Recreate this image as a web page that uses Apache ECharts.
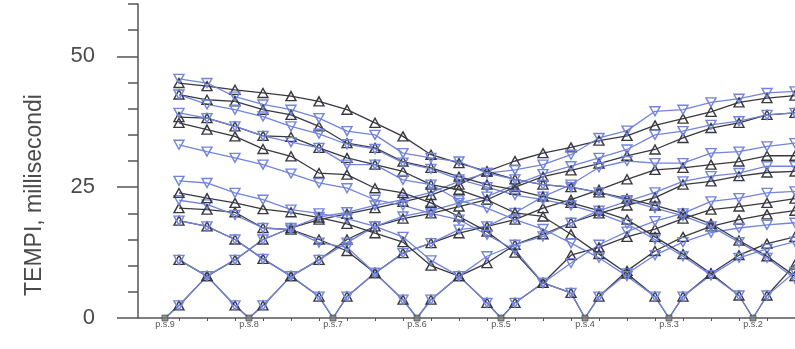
<!DOCTYPE html>
<html>
<head>
<meta charset="utf-8">
<script src="https://cdn.jsdelivr.net/npm/echarts@6/dist/echarts.min.js"></script>
<style>
  html, body { margin: 0; padding: 0; background: #fff; }
  #tempi { width: 795px; height: 349px; }
</style>
</head>
<body>
<div id="tempi"></div>
<script>
  // posizioni degli elettrodi (colonne) e dei punti di stimolo
  const colonne = [0.5, 1.5, 2.5, 3.5, 4.5, 5.5, 6.5, 7.5, 8.5, 9.5, 10.5, 11.5,
    12.5, 13.5, 14.5, 15.5, 16.5, 17.5, 18.5, 19.5, 20.5, 21.5, 22.5];
  const siti = [0, 3, 6, 9, 12, 15, 18, 21, 24];
  const etichette = ['p.s.9', 'p.s.8', 'p.s.7', 'p.s.6', 'p.s.5', 'p.s.4', 'p.s.3', 'p.s.2', 'p.s.1'];
  const tickY = [0, 25, 50];

  // tempi (ms) per ogni punto di stimolo: scuro = triangolo su, blu = triangolo giu
  const scuroPs9 = [2.4, 8.0, 11.1, 15.0, 17.2, 18.8, 19.9, 21.0, 22.2, 23.5, 25.5, 28.0, 30.0, 31.5, 32.6, 33.9, 34.8, 36.8, 38.1, 39.4, 41.2, 42.0, 42.5];
  const bluPs9 = [2.4, 8.0, 11.1, 15.0, 17.2, 19.3, 20.2, 21.5, 22.6, 24.0, 26.1, 27.7, 28.3, 29.3, 31.2, 34.4, 35.8, 39.5, 39.8, 41.2, 41.9, 43.0, 43.3];
  const scuroPs8 = [11.1, 8.0, 2.4, 2.4, 8.0, 11.1, 15.0, 17.5, 19.0, 20.0, 21.3, 22.6, 25.0, 27.0, 28.2, 29.5, 31.0, 32.2, 34.4, 36.3, 37.3, 38.8, 39.2];
  const bluPs8 = [11.1, 8.0, 2.4, 2.4, 8.0, 11.1, 14.4, 17.5, 19.4, 20.5, 22.0, 23.2, 25.5, 27.5, 29.0, 30.6, 32.2, 35.0, 35.7, 36.9, 37.6, 38.8, 39.2];
  const scuroPs7 = [18.6, 17.5, 15.0, 11.3, 8.0, 4.1, 4.1, 8.6, 12.4, 14.3, 16.2, 17.5, 18.8, 21.0, 22.6, 24.5, 26.5, 28.3, 28.7, 29.3, 29.9, 31.0, 31.0];
  const bluPs7 = [18.6, 17.5, 15.0, 11.3, 8.0, 4.1, 4.1, 8.6, 12.4, 14.3, 16.9, 17.5, 20.1, 23.2, 25.5, 28.8, 30.0, 29.6, 29.6, 31.5, 31.8, 32.8, 33.4];
  const scuroPs6 = [21.0, 20.7, 20.2, 17.2, 16.9, 15.0, 12.8, 8.6, 3.5, 3.5, 8.0, 10.5, 14.0, 16.0, 18.2, 20.0, 21.5, 23.0, 25.5, 26.1, 27.1, 27.8, 28.0];
  const bluPs6 = [22.5, 21.7, 19.7, 17.2, 16.9, 14.4, 13.5, 8.6, 3.5, 3.5, 8.0, 11.8, 14.0, 15.6, 18.2, 20.5, 22.3, 24.0, 26.1, 27.1, 27.7, 29.0, 29.0];
  const scuroPs5 = [23.9, 22.9, 22.0, 20.8, 20.2, 19.2, 18.0, 16.2, 14.5, 10.0, 8.0, 2.9, 2.9, 6.7, 12.0, 13.5, 15.5, 17.0, 19.0, 20.7, 21.3, 22.0, 22.8];
  const bluPs5 = [26.2, 25.8, 23.9, 22.6, 20.7, 20.0, 19.0, 17.5, 15.5, 11.0, 8.0, 2.9, 2.9, 6.7, 10.5, 14.0, 16.5, 18.5, 20.0, 22.3, 22.9, 23.9, 24.2];
  const scuroPs4 = [37.3, 36.0, 34.7, 32.3, 30.9, 27.7, 27.4, 24.8, 23.9, 22.0, 19.4, 16.5, 12.5, 6.7, 4.8, 4.1, 9.0, 12.8, 15.5, 17.5, 18.8, 19.8, 20.5];
  const bluPs4 = [33.1, 31.8, 30.6, 29.3, 27.6, 25.8, 24.8, 22.6, 21.5, 20.0, 18.8, 15.9, 13.0, 6.7, 4.8, 4.1, 8.5, 12.0, 14.5, 16.3, 17.2, 17.8, 18.2];
  const scuroPs3 = [38.4, 38.2, 36.6, 34.8, 34.6, 32.5, 30.6, 29.3, 28.0, 25.5, 24.5, 22.6, 20.1, 19.4, 16.0, 12.2, 8.5, 4.1, 4.1, 8.5, 12.0, 14.2, 15.5];
  const bluPs3 = [39.2, 38.2, 36.6, 34.8, 33.6, 32.5, 29.3, 29.3, 26.4, 25.5, 22.5, 21.0, 18.8, 17.0, 14.3, 11.5, 8.0, 4.1, 4.1, 8.2, 11.5, 13.2, 14.6];
  const scuroPs2 = [42.7, 41.7, 41.4, 39.8, 38.8, 36.6, 33.4, 32.5, 29.9, 28.7, 27.0, 25.5, 24.5, 23.2, 22.0, 20.5, 18.8, 15.5, 12.2, 8.5, 4.3, 4.3, 10.2];
  const bluPs2 = [42.7, 40.8, 39.8, 38.5, 36.6, 35.2, 33.2, 32.3, 29.7, 28.5, 26.5, 25.0, 23.5, 22.6, 21.5, 20.0, 18.0, 15.0, 11.8, 8.2, 4.3, 4.3, 8.8];
  const scuroPs1 = [44.9, 44.3, 43.6, 43.0, 42.4, 41.4, 39.8, 37.3, 34.7, 31.2, 29.6, 28.0, 26.5, 25.5, 25.0, 24.0, 22.8, 21.5, 20.0, 18.0, 14.8, 11.8, 8.0];
  const bluPs1 = [45.7, 44.9, 42.3, 40.8, 39.8, 38.2, 35.7, 35.0, 31.5, 30.6, 29.9, 27.7, 26.5, 25.5, 25.0, 24.0, 22.5, 21.0, 19.5, 17.5, 14.5, 11.5, 7.5];

  const scuri = [scuroPs9, scuroPs8, scuroPs7, scuroPs6, scuroPs5, scuroPs4, scuroPs3, scuroPs2, scuroPs1];
  const blu = [bluPs9, bluPs8, bluPs7, bluPs6, bluPs5, bluPs4, bluPs3, bluPs2, bluPs1];

  const coloreScuro = '#383840';
  const coloreBlu = '#7284dc';

  // unisce i tempi delle colonne con il punto di stimolo (tempo 0)
  function punti(valori, sito) {
    const out = [];
    let messo = false;
    colonne.forEach((x, i) => {
      if (!messo && x > sito) {
        out.push({value: [sito, 0], symbol: 'none'});
        messo = true;
      }
      out.push([x, valori[i]]);
    });
    if (!messo) out.push({value: [sito, 0], symbol: 'none'});
    return out;
  }

  function linea(nome, valori, sito, colore, giu) {
    return {
      name: nome,
      type: 'line',
      data: punti(valori, sito),
      symbol: 'triangle',
      symbolSize: [10, 9],
      symbolRotate: giu ? 180 : 0,
      showAllSymbol: true,
      lineStyle: {color: colore, width: 1.3},
      itemStyle: {color: 'rgba(0,0,0,0)', borderColor: colore, borderWidth: 1.4},
      emphasis: {disabled: true}
    };
  }

  const series = [];
  siti.forEach((sito, k) => {
    series.push(linea(etichette[k] + ' scuro', scuri[k], sito, coloreScuro, false));
    series.push(linea(etichette[k] + ' blu', blu[k], sito, coloreBlu, true));
  });
  series.push({
    name: 'siti',
    type: 'scatter',
    data: siti.map(s => [s, 0]),
    symbol: 'rect',
    symbolSize: 6,
    itemStyle: {color: '#7c7c7c', borderColor: '#454545', borderWidth: 0.8},
    z: 5
  });

  const font = "'Liberation Sans', Arial, sans-serif";

  const option = {
    animation: false,
    backgroundColor: '#fff',
    grid: {left: 138, right: 0, top: 4, bottom: 31},
    xAxis: {
      type: 'value',
      min: -0.964,
      max: 22.5,
      axisLine: {onZero: false, lineStyle: {color: '#555', width: 1.5}},
      axisTick: {customValues: colonne, length: 3, lineStyle: {color: '#555', width: 1}},
      axisLabel: {
        customValues: siti.slice(0, 8),
        margin: 2,
        fontSize: 9,
        fontFamily: font,
        color: '#555',
        formatter: v => etichette[siti.indexOf(Math.round(v))] || ''
      },
      splitLine: {show: false}
    },
    yAxis: [
      {
        type: 'value',
        position: 'left',
        min: 0,
        max: 60,
        interval: 5,
        axisLine: {show: true, onZero: false, lineStyle: {color: '#555', width: 1.5}},
        axisTick: {show: true, length: 10, lineStyle: {color: '#555', width: 1.5}},
        axisLabel: {
          margin: 43,
          fontSize: 22,
          fontFamily: font,
          color: '#4a4a4a',
          formatter: v => (tickY.indexOf(v) >= 0 ? String(v) : '')
        },
        splitLine: {show: false}
      },
      {
        type: 'value',
        position: 'left',
        offset: 0,
        min: 0,
        max: 60,
        interval: 25,
        axisLine: {show: false, onZero: false},
        axisTick: {show: true, customValues: tickY, length: 21, lineStyle: {color: '#555', width: 1.5}},
        axisLabel: {show: false},
        splitLine: {show: false}
      }
    ],
    graphic: [{
      type: 'text',
      x: 35,
      y: 195,
      rotation: Math.PI / 2,
      style: {
        text: 'TEMPI, millisecondi',
        font: '23px ' + font,
        fill: '#4a4a4a',
        textAlign: 'center',
        textVerticalAlign: 'middle'
      }
    }],
    series: series
  };

  const grafico = echarts.init(document.getElementById('tempi'));
  grafico.setOption(option);
</script>
</body>
</html>
